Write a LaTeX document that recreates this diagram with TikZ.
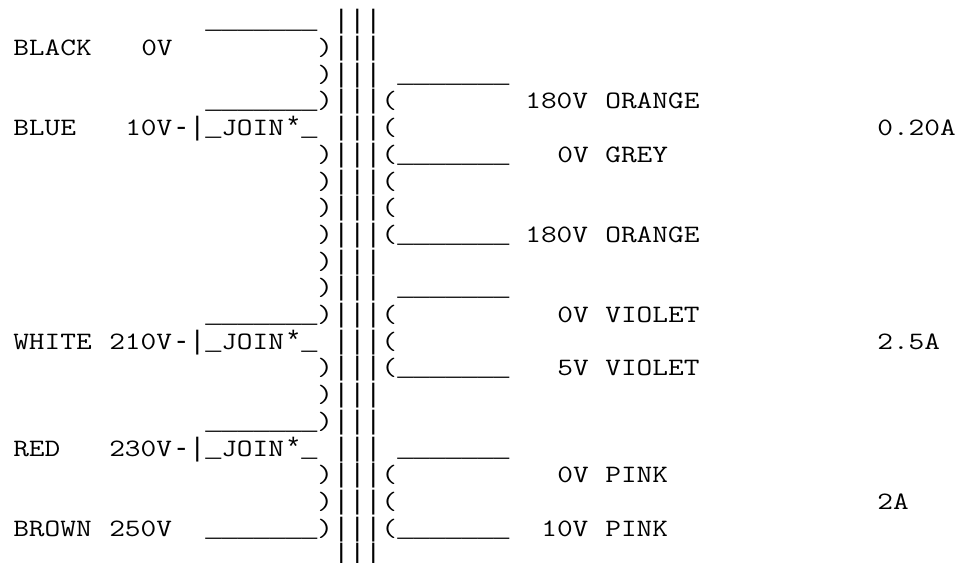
\documentclass[tikz,border=0pt]{standalone}
\usepackage{fontspec}
\newfontfamily\ascfont[FakeStretch=1.219]{Latin Modern Mono}
\newfontfamily\linefont{Liberation Mono}
\tikzset{asc/.style={inner sep=0pt,outer sep=0pt,anchor=base west,text=black,font=\ascfont\fontsize{25}{25}\selectfont},
  lin/.style={asc,font=\linefont\fontsize{26.67}{26.67}\selectfont}}
\newcommand\pc[3]{\node[asc] (r#2c#1) at ({13.3+16*#1},{28.8+26.7*#2}) {#3};}
\newcommand\sy[3]{\node[lin] (r#2c#1) at ({13.3+16*#1},{28.8+26.7*#2}) {#3};}
\newcommand\ul[2]{\sy{#1}{#2}{\_\_\_\_\_\_\_}}
\newcommand\join[2]{\sy{#1}{#2}{-|\_}\pc{\the\numexpr#1+3\relax}{#2}{JOIN}\sy{\the\numexpr#1+7\relax}{#2}{*\_}}
\begin{document}
\begin{tikzpicture}[x=1pt,y=-1pt]
\useasboundingbox[fill=white] (0,0) rectangle (963,562);
% core
\foreach \r in {0,...,20} {\sy{20}{\r}{|||}}
% row 0
\ul{12}{0}
% row 1
\pc{0}{1}{BLACK}\pc{8}{1}{0V}\pc{19}{1}{)}
% row 2
\pc{19}{2}{)}\ul{24}{2}
% row 3
\ul{12}{3}\pc{19}{3}{)}\pc{23}{3}{(}\pc{32}{3}{180V}\pc{37}{3}{ORANGE}
% row 4
\pc{0}{4}{BLUE}\pc{7}{4}{10V}\join{10}{4}\pc{23}{4}{(}\pc{54}{4}{0.20A}
% row 5
\pc{19}{5}{)}\pc{23}{5}{(}\ul{24}{5}\pc{34}{5}{0V}\pc{37}{5}{GREY}
% rows 6-7
\pc{19}{6}{)}\pc{23}{6}{(}
\pc{19}{7}{)}\pc{23}{7}{(}
% row 8
\pc{19}{8}{)}\pc{23}{8}{(}\ul{24}{8}\pc{32}{8}{180V}\pc{37}{8}{ORANGE}
% row 9
\pc{19}{9}{)}
% row 10
\pc{19}{10}{)}\ul{24}{10}
% row 11
\ul{12}{11}\pc{19}{11}{)}\pc{23}{11}{(}\pc{34}{11}{0V}\pc{37}{11}{VIOLET}
% row 12
\pc{0}{12}{WHITE}\pc{6}{12}{210V}\join{10}{12}\pc{23}{12}{(}\pc{54}{12}{2.5A}
% row 13
\pc{19}{13}{)}\pc{23}{13}{(}\ul{24}{13}\pc{34}{13}{5V}\pc{37}{13}{VIOLET}
% row 14
\pc{19}{14}{)}
% row 15
\ul{12}{15}\pc{19}{15}{)}
% row 16
\pc{0}{16}{RED}\pc{6}{16}{230V}\join{10}{16}\ul{24}{16}
% row 17
\pc{19}{17}{)}\pc{23}{17}{(}\pc{34}{17}{0V}\pc{37}{17}{PINK}
% row 18
\pc{19}{18}{)}\pc{23}{18}{(}\pc{54}{18}{2A}
% row 19
\pc{0}{19}{BROWN}\pc{6}{19}{250V}\ul{12}{19}\pc{19}{19}{)}\pc{23}{19}{(}\ul{24}{19}\pc{33}{19}{10V}\pc{37}{19}{PINK}
\end{tikzpicture}
\end{document}
